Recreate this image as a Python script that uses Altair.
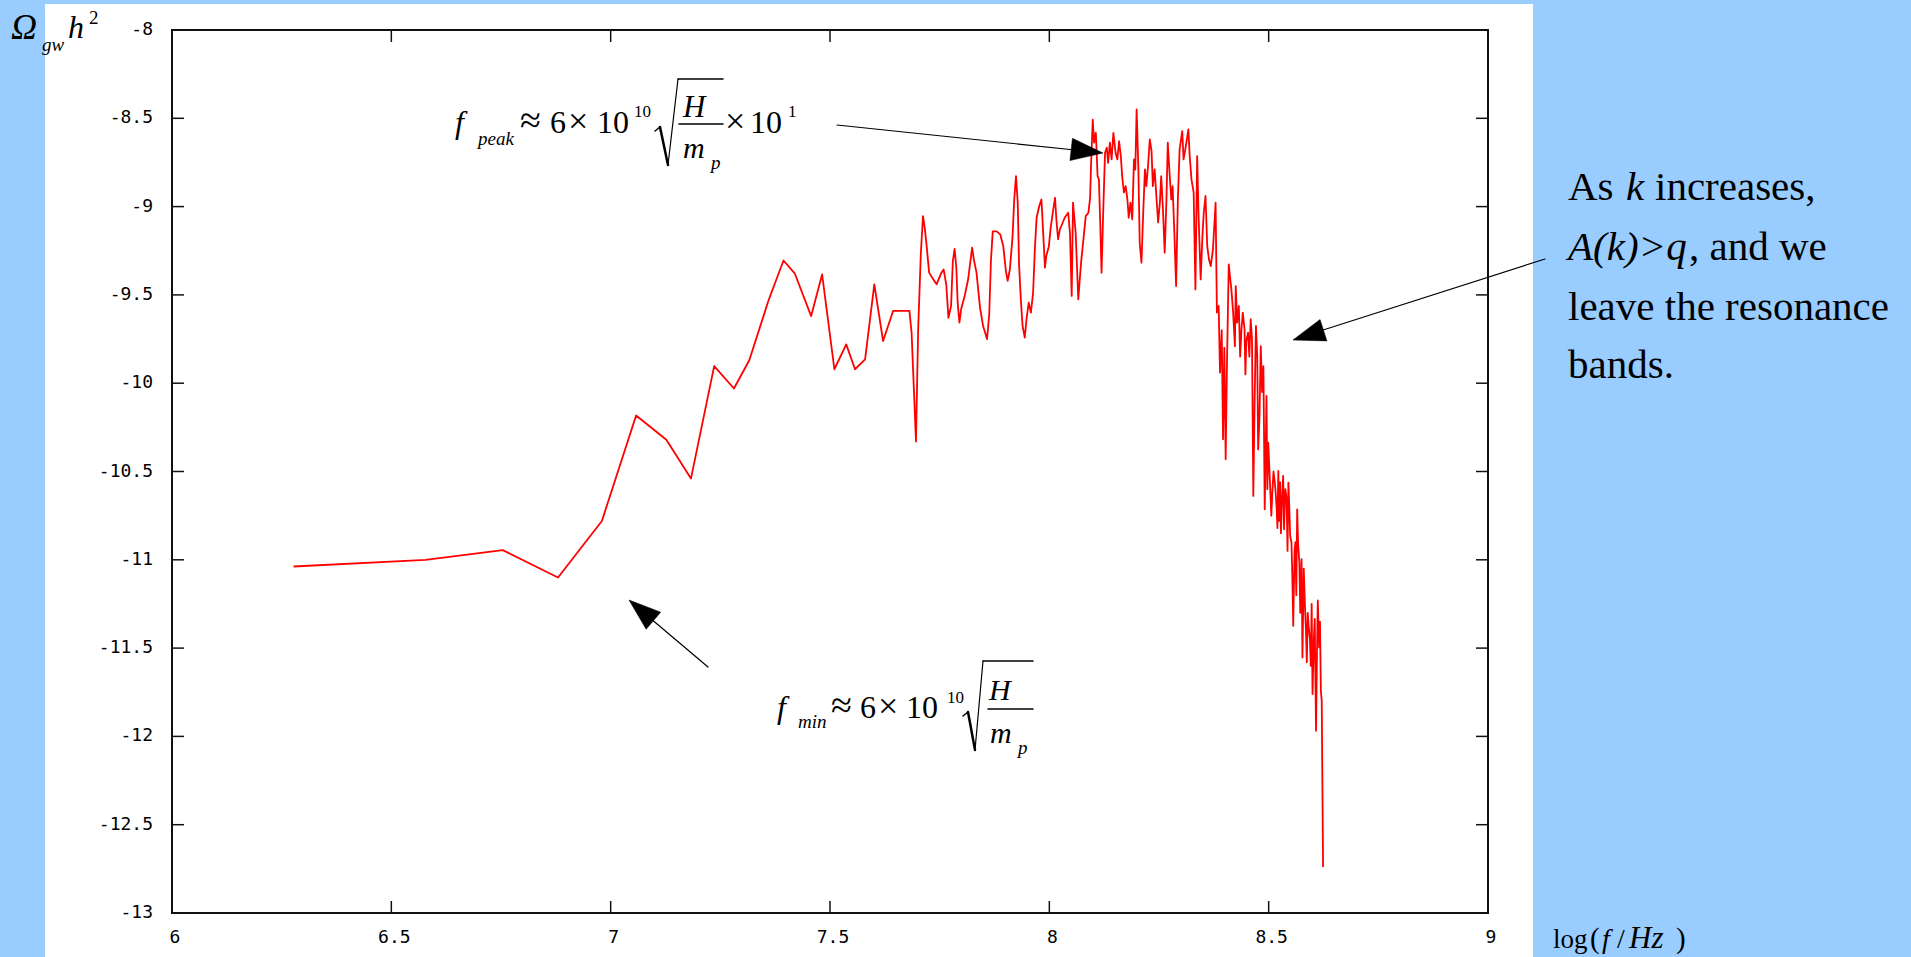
import altair as alt
import pandas as pd

# ---------------- data ----------------
# main trace (vertices)
log_f = [
    6.277, 6.578, 6.754, 6.880, 6.980, 7.058, 7.127, 7.183, 7.236, 7.281,
    7.316, 7.360, 7.394, 7.420, 7.457, 7.482, 7.510, 7.537, 7.557, 7.580,
    7.601, 7.621, 7.644, 7.681, 7.686, 7.690, 7.696, 7.701, 7.707, 7.712,
    7.716, 7.720, 7.726, 7.735, 7.743, 7.754, 7.759, 7.765, 7.770, 7.776,
    7.780, 7.784, 7.788, 7.791, 7.795, 7.799, 7.807, 7.815, 7.820, 7.824,
    7.828, 7.834, 7.842, 7.849, 7.858, 7.863, 7.867, 7.871, 7.880, 7.888,
    7.895, 7.901, 7.905, 7.910, 7.916, 7.920, 7.924, 7.928, 7.931, 7.935,
    7.939, 7.944, 7.948, 7.953, 7.958, 7.963, 7.967, 7.971, 7.977, 7.982,
    7.986, 7.990, 7.993, 7.999, 8.003, 8.009, 8.013, 8.016, 8.020, 8.024,
    8.029, 8.035, 8.043, 8.047, 8.051, 8.054, 8.060, 8.066, 8.070, 8.073,
    8.077, 8.083, 8.089, 8.093, 8.095, 8.099, 8.102, 8.106, 8.110, 8.113,
    8.116, 8.119, 8.123, 8.127, 8.131, 8.134, 8.138, 8.142, 8.146, 8.151,
    8.155, 8.159, 8.163, 8.166, 8.170, 8.174, 8.178, 8.181, 8.185, 8.189,
    8.193, 8.196, 8.199, 8.203, 8.206, 8.210, 8.214, 8.218, 8.221, 8.225,
    8.229, 8.233, 8.236, 8.240, 8.244, 8.248, 8.252, 8.255, 8.259, 8.263,
    8.267, 8.270, 8.274, 8.278, 8.281, 8.285, 8.289, 8.293, 8.297, 8.303,
    8.306, 8.310, 8.317, 8.320, 8.324, 8.329, 8.333, 8.337, 8.340, 8.345,
    8.349, 8.352, 8.356, 8.360, 8.364, 8.368, 8.373, 8.379, 8.382, 8.386,
    8.389, 8.393, 8.396, 8.399, 8.402, 8.405, 8.409, 8.412, 8.415, 8.419,
    8.423, 8.428, 8.432, 8.438, 8.445, 8.449, 8.453, 8.459, 8.465, 8.471,
    8.476, 8.482, 8.488, 8.491, 8.495, 8.499, 8.503, 8.508, 8.514, 8.518,
    8.522, 8.524, 8.526, 8.530, 8.533, 8.535, 8.541, 8.545, 8.549, 8.552,
    8.556, 8.561, 8.565, 8.570, 8.575, 8.577, 8.583, 8.587, 8.591, 8.594,
    8.598, 8.600, 8.605, 8.608, 8.612, 8.615, 8.619, 8.621, 8.624,
]

omega_gw_h2 = [
    -11.038, -11.000, -10.945, -11.100, -10.780, -10.183, -10.320, -10.540, -9.903, -10.030,
    -9.870, -9.530, -9.305, -9.380, -9.620, -9.384, -9.921, -9.780, -9.921, -9.865,
    -9.440, -9.761, -9.590, -9.590, -9.714, -9.960, -10.330, -9.695, -9.270, -9.054,
    -9.120, -9.214, -9.374, -9.410, -9.440, -9.374, -9.356, -9.440, -9.630, -9.563,
    -9.310, -9.240, -9.346, -9.544, -9.657, -9.580, -9.506, -9.410, -9.310, -9.233,
    -9.300, -9.374, -9.572, -9.676, -9.750, -9.610, -9.300, -9.140, -9.140, -9.157,
    -9.224, -9.365, -9.420, -9.356, -9.176, -8.960, -8.827, -8.978, -9.327, -9.525,
    -9.676, -9.742, -9.638, -9.544, -9.600, -9.487, -9.242, -9.063, -8.997, -8.960,
    -9.148, -9.346, -9.280, -9.224, -9.120, -9.016, -8.950, -9.072, -9.186, -9.129,
    -9.100, -9.063, -9.035, -9.148, -9.506, -8.978, -9.148, -9.525, -9.393, -9.300,
    -9.204, -9.054, -9.035, -8.950, -8.770, -8.507, -8.638, -8.582, -8.827, -8.846,
    -9.090, -9.374, -9.016, -8.695, -8.667, -8.752, -8.638, -8.733, -8.582, -8.695,
    -8.733, -8.630, -8.714, -8.827, -8.920, -8.884, -8.960, -9.063, -8.978, -9.072,
    -8.733, -8.790, -8.450, -8.790, -9.204, -9.318, -9.035, -8.790, -8.884, -8.770,
    -8.620, -8.686, -8.884, -8.790, -8.940, -9.090, -8.978, -8.827, -9.016, -9.261,
    -8.960, -8.638, -8.808, -8.960, -8.884, -9.148, -9.450, -8.960, -8.676, -8.573,
    -8.733, -8.676, -8.563, -8.714, -8.846, -8.920, -9.469, -8.714, -9.035, -9.412,
    -9.167, -9.035, -8.940, -9.224, -9.300, -9.337, -9.242, -8.978, -9.600, -9.563,
    -9.940, -9.700, -10.318, -9.800, -10.430, -9.884, -9.327, -9.400, -9.469, -9.600,
    -9.790, -9.657, -9.563, -9.695, -9.695, -9.760, -9.714, -9.638, -10.638, -9.676,
    -10.375, -9.790, -9.903, -10.714, -10.072, -10.336, -10.563, -10.638, -10.563, -10.700,
    -10.497, -10.780, -10.560, -10.676, -10.525, -10.827, -10.657, -10.563, -10.865, -10.902,
    -11.374, -10.900, -10.714, -11.016, -10.997, -11.553, -11.280, -11.580, -11.374, -11.450,
    -11.250, -11.760, -11.335, -11.968, -11.230, -11.496, -11.742, -11.800, -12.740,
]

# extra vertices read in the dense, rapidly oscillating band near the cut-off
band_log_f = [
    8.425, 8.435, 8.441, 8.447, 8.456, 8.462, 8.468, 8.474, 8.479, 8.485,
    8.493, 8.497, 8.501, 8.506, 8.511, 8.516, 8.520, 8.528, 8.538, 8.543,
    8.547, 8.554, 8.559, 8.563, 8.567, 8.572, 8.580, 8.585, 8.589, 8.596,
    8.603, 8.610, 8.617,
]
band_omega = [
    -9.450, -9.850, -9.600, -9.950, -9.850, -9.750, -10.100, -9.850, -10.200, -10.050,
    -10.400, -10.600, -10.450, -10.750, -10.500, -10.620, -10.820, -10.850, -10.600, -10.950,
    -10.700, -11.100, -10.950, -11.200, -10.900, -11.300, -11.050, -11.400, -11.300, -11.600,
    -11.450, -11.550, -11.350,
]

x_ticks = [6, 6.5, 7, 7.5, 8, 8.5, 9]
x_tick_labels = ["6", "6.5", "7", "7.5", "8", "8.5", "9"]
y_ticks = [-8, -8.5, -9, -9.5, -10, -10.5, -11, -11.5, -12, -12.5, -13]
y_tick_labels = ["-8", "-8.5", "-9", "-9.5", "-10", "-10.5", "-11", "-11.5", "-12", "-12.5", "-13"]

assert len(log_f) == len(omega_gw_h2)
assert len(band_log_f) == len(band_omega)

# ---------------- layout ----------------
OX, OY = 172, 30          # page position of the plot origin
W, H = 1316, 883          # plot area
BLUE = "#99CCFF"
SERIF = "Liberation Serif"
MONO = "DejaVu Sans Mono"

df = pd.DataFrame({"log_f": log_f + band_log_f, "omega": omega_gw_h2 + band_omega})
df = df.sort_values("log_f", kind="stable").reset_index(drop=True)
one = pd.DataFrame({"k": [0]})
xt_df = pd.DataFrame({"v": x_ticks, "lab": x_tick_labels})
yt_df = pd.DataFrame({"v": y_ticks, "lab": y_tick_labels})

xscale = alt.Scale(domain=[6, 9], nice=False, zero=False)
yscale = alt.Scale(domain=[-13, -8], nice=False, zero=False)


def X(v):
    return alt.value(v - OX)


def Y(v):
    return alt.value(v - OY)


def txt(s, x, y, size, italic=False, font=SERIF):
    return alt.Chart(one).mark_text(
        text=s, font=font, fontSize=size,
        fontStyle="italic" if italic else "normal",
        align="left", baseline="alphabetic", color="black",
    ).encode(x=X(x), y=Y(y))


def seg(x1, y1, x2, y2, w=1.2):
    return alt.Chart(one).mark_rule(color="black", strokeWidth=w, strokeCap="round").encode(
        x=X(x1), y=Y(y1), x2=X(x2), y2=Y(y2))


def head(x, y, ang):
    return alt.Chart(one).mark_point(
        shape="M0,0L-2,-0.7L-2,0.7Z", size=1024, filled=True, fill="black",
        stroke="black", strokeWidth=0.5, opacity=1, angle=ang,
    ).encode(x=X(x), y=Y(y))


def block(x1, y1, x2, y2, color):
    return alt.Chart(one).mark_rect(color=color, opacity=1).encode(
        x=X(x1), x2=X(x2), y=Y(y1), y2=Y(y2))


layers = []

# blue page around the white panel
layers += [
    block(0, 0, 45, 957, BLUE),
    block(45, 0, 1533, 4, BLUE),
    block(1533, 0, 1911, 957, BLUE),
]

# data line
layers.append(alt.Chart(df).mark_line(color="#FF0000", strokeWidth=1.8, strokeJoin="round").encode(
    x=alt.X("log_f:Q", scale=xscale, axis=None),
    y=alt.Y("omega:Q", scale=yscale, axis=None),
    order="log_f:Q",
))

# inward ticks on all four sides
xt = alt.Chart(xt_df)
yt = alt.Chart(yt_df)
layers.append(xt.mark_rule(color="#111", strokeWidth=1.5).encode(
    x=alt.X("v:Q", scale=xscale, axis=None), y=alt.value(H - 12), y2=alt.value(H)))
layers.append(xt.mark_rule(color="#111", strokeWidth=1.5).encode(
    x=alt.X("v:Q", scale=xscale, axis=None), y=alt.value(0), y2=alt.value(12)))
layers.append(yt.mark_rule(color="#111", strokeWidth=1.5).encode(
    y=alt.Y("v:Q", scale=yscale, axis=None), x=alt.value(0), x2=alt.value(12)))
layers.append(yt.mark_rule(color="#111", strokeWidth=1.5).encode(
    y=alt.Y("v:Q", scale=yscale, axis=None), x=alt.value(W - 12), x2=alt.value(W)))

# tick labels
layers.append(xt.mark_text(font=MONO, fontSize=18, color="black", align="center",
                           baseline="top", dx=3).encode(
    x=alt.X("v:Q", scale=xscale, axis=None), y=alt.value(H + 16), text="lab:N"))
layers.append(yt.mark_text(font=MONO, fontSize=18, color="black", align="right",
                           baseline="middle").encode(
    y=alt.Y("v:Q", scale=yscale, axis=None), x=alt.value(-19), text="lab:N"))

# frame
layers.append(alt.Chart(one).mark_rect(filled=False, stroke="#111", strokeWidth=2).encode(
    x=alt.value(0), x2=alt.value(W), y=alt.value(0), y2=alt.value(H)))

# y title  Omega_gw h^2
layers += [
    txt("Ω", 11, 39, 36, True),
    txt("gw", 42, 51, 19, True),
    txt("h", 68, 38, 32, True),
    txt("2", 89, 24, 19),
]

# x title  log(f/Hz)
layers += [
    txt("log", 1553, 948, 27),
    txt("(", 1590, 948, 29),
    txt("f", 1602, 948, 28, True),
    txt("/", 1617, 948, 28),
    txt("Hz", 1629, 948, 31, True),
    txt(")", 1676, 948, 29),
]

# f_peak annotation
layers += [
    txt("f", 455, 133, 32, True),
    txt("peak", 478, 145, 19, True),
    txt("≈", 520, 133, 38),
    txt("6", 550, 133, 32),
    txt("×", 568, 133, 36),
    txt("10", 597, 133, 32),
    txt("10", 634, 117, 17),
    txt("H", 683, 117, 31, True),
    txt("m", 683, 158, 30, True),
    txt("p", 711, 169, 19, True),
    txt("×", 725, 133, 36),
    txt("10", 750, 133, 32),
    txt("1", 788, 117, 17),
    seg(655, 131, 660, 127, 1.5),
    seg(660, 127, 668, 165, 2.5),
    seg(668, 165, 678, 79, 1.2),
    seg(678, 79, 723, 79, 1.5),
    seg(679, 124, 723, 124, 1.5),
    seg(837, 125, 1075, 150, 1.2),
    head(1103, 153, 6.4),
]

# f_min annotation
layers += [
    txt("f", 777, 718, 32, True),
    txt("min", 798, 728, 19, True),
    txt("≈", 831, 718, 38),
    txt("6", 860, 718, 32),
    txt("×", 878, 718, 36),
    txt("10", 906, 718, 32),
    txt("10", 947, 703, 17),
    txt("H", 989, 700, 30, True),
    txt("m", 990, 743, 30, True),
    txt("p", 1018, 754, 19, True),
    seg(963, 716, 968, 712, 1.5),
    seg(968, 712, 975, 750, 2.5),
    seg(975, 750, 983, 661, 1.2),
    seg(983, 661, 1033, 661, 1.5),
    seg(988, 709, 1033, 709, 1.5),
    seg(708, 667, 650, 618, 1.2),
    head(629, 600, 220.3),
]

# right-hand remark
layers += [
    txt("As", 1568, 200, 41),
    txt("k", 1626, 200, 41, True),
    txt("increases,", 1655, 200, 41),
    txt("A(k)>q", 1568, 260, 41, True),
    txt(", and we", 1689, 260, 41),
    txt("leave the resonance", 1568, 320, 41),
    txt("bands.", 1568, 378, 41),
    seg(1545, 259, 1320, 331, 1.2),
    head(1293, 340, 162.2),
]

chart = alt.layer(*layers).properties(
    width=W, height=H,
    padding={"left": OX, "top": OY, "right": 1911 - OX - W, "bottom": 957 - OY - H},
    autosize=alt.AutoSizeParams(type="none"),
    background="white",
).configure_view(stroke="transparent")

chart.save("out.html", embed_options={"renderer": "svg", "actions": False})
